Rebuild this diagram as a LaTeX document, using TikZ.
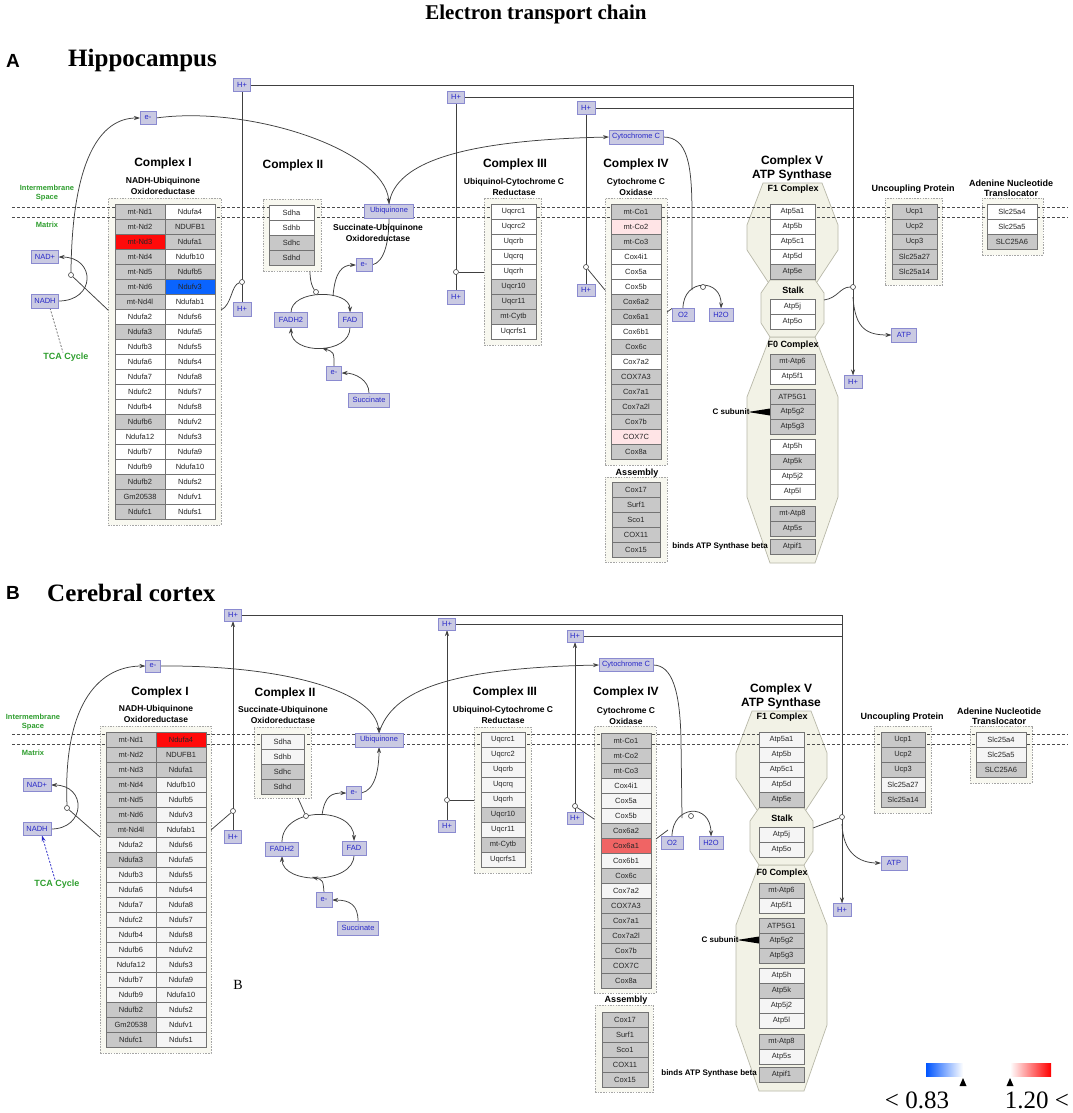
\documentclass[tikz,border=0pt]{standalone}
\usepackage{fontspec}
\setmainfont{Liberation Sans}
\newfontfamily\tnr{Liberation Serif}
\usetikzlibrary{arrows.meta}
\pgfdeclarelayer{back}
\pgfdeclarelayer{mid}
\pgfsetlayers{back,mid,main}
\definecolor{gry}{HTML}{C8C8C8}
\definecolor{wht}{HTML}{FFFFFF}
\definecolor{wht2}{HTML}{F5F5F5}
\definecolor{rd}{HTML}{FF0A0A}
\definecolor{bl}{HTML}{0A64FF}
\definecolor{pk}{HTML}{FFE4E6}
\definecolor{rm}{HTML}{F06464}
\definecolor{beige}{HTML}{F8F8F0}
\definecolor{octfill}{HTML}{F2F2E6}
\definecolor{octdraw}{HTML}{B8B8A8}
\definecolor{mfill}{HTML}{CACAE2}
\definecolor{mbord}{HTML}{8A8AD0}
\definecolor{mtext}{HTML}{2828C8}
\definecolor{grn}{HTML}{2E9E2E}
\definecolor{lblue}{HTML}{0055FF}
\definecolor{lred}{HTML}{FF0000}
\tikzset{
  gcell/.style={draw=black!55, line width=0.5pt, minimum height=15, inner sep=0, outer sep=0, text=black!85, font=\fontsize{7.5}{8}\selectfont},
  contst/.style={draw=black!35, dash pattern=on 1.5pt off 1.2pt, fill=beige, inner sep=0, outer sep=0, line width=0.7pt},
  mbox/.style={draw=mbord, fill=mfill, text=mtext, inner sep=0, outer sep=0, line width=0.6pt, font=\fontsize{7.5}{8}\selectfont},
  ctitle/.style={font=\fontsize{12}{13.3}\selectfont\bfseries, align=center, inner sep=0},
  csub/.style={font=\fontsize{8.5}{10.5}\selectfont\bfseries, align=center, inner sep=0},
  lab9/.style={font=\fontsize{9}{10}\selectfont\bfseries, align=center, inner sep=0},
  lab8/.style={font=\fontsize{8}{9}\selectfont\bfseries, inner sep=0},
  gtxt/.style={text=grn, font=\fontsize{7.5}{9}\selectfont\bfseries, align=center, inner sep=0},
  link/.style={draw=black!75, line width=0.75pt},
  arr/.style={-{Stealth[length=6pt,width=4pt]}},
  dot/.style={circle, draw=black!75, fill=white, inner sep=0, minimum size=5, line width=0.6pt},
  memb/.style={draw=black!70, dash pattern=on 3pt off 2pt, line width=0.6pt},
  oct/.style={fill=octfill, draw=octdraw, line width=0.7pt}
}
\newcommand\genecol[5]{%
  \foreach \gn/\gf [count=\gi] in {#5}{%
    \node[gcell, fill=\gf, minimum width=#4, anchor=north west] (#1-\gi) at (#2,{#3+15*(\gi-1)}) {\gn};}}
\newcommand\contbox[5]{\node[contst, minimum width=#4, minimum height=#5, anchor=north west] (#1) at (#2,#3) {};}
\newcommand\octsV{%
  \draw[oct] (763,183) -- (822,183) -- (838,225) -- (838,250) -- (815,285) -- (770,285) -- (747,250) -- (747,225) -- cycle;
  \draw[oct] (770,337) -- (815,337) -- (838,397) -- (838,497) -- (815,563) -- (770,563) -- (747,497) -- (747,397) -- cycle;
  \draw[oct] (770,280) -- (815,280) -- (824,293) -- (824,323) -- (815,337) -- (770,337) -- (761,323) -- (761,293) -- cycle;}
\begin{document}
\begin{tikzpicture}[x=1pt,y=-1pt]
\useasboundingbox (0,0) rectangle (1072,1113);

% ================= titles
\node[font=\tnr\bfseries\fontsize{21}{24}\selectfont] (title) at (536,14) {Electron transport chain};
\node[font=\bfseries\fontsize{19}{22}\selectfont] (lblA) at (13,61) {A};
\node[font=\tnr\bfseries\fontsize{25}{28}\selectfont, anchor=west, inner sep=0] (hip) at (68,60) {Hippocampus};
\node[font=\bfseries\fontsize{19}{22}\selectfont] (lblB) at (13,593) {B};
\node[font=\tnr\bfseries\fontsize{25}{28}\selectfont, anchor=west, inner sep=0] (cortex) at (47,593) {Cerebral cortex};

% ================= background layer: containers and octagons
\begin{pgfonlayer}{back}
  \fill[white] (0,0) rectangle (1072,1113);
  % panel A
  \contbox{kIA}{108}{198}{113}{327}
  \contbox{kIIA}{263}{199}{58}{72}
  \contbox{kIIIA}{484}{198}{57}{147}
  \contbox{kIVA}{605}{198}{62}{267}
  \contbox{asA}{605}{477}{62}{85}
  \contbox{ucA}{885}{198}{57}{87}
  \contbox{antA}{982}{198}{61}{57}
  \octsV
  % panel B
  \contbox{kIB}{100}{726}{111}{327}
  \contbox{kIIB}{254}{727}{57}{71}
  \contbox{kIIIB}{474}{727}{57}{146}
  \contbox{kIVB}{594}{726}{62}{267}
  \contbox{asB}{595}{1005}{58}{87}
  \contbox{ucB}{874}{726}{57}{87}
  \contbox{antB}{970}{726}{62}{57}
  \begin{scope}[shift={(-11,528)}]
    \octsV
  \end{scope}
\end{pgfonlayer}

% ================= membrane lines
\begin{pgfonlayer}{mid}
  \draw[memb] (12,207) -- (1068,207);
  \draw[memb] (12,217) -- (1068,217);
  \draw[memb] (12,734) -- (1068,734);
  \draw[memb] (12,744) -- (1068,744);
\end{pgfonlayer}

% ================= labels panel A
\node[gtxt] (imsA) at (47,193) {Intermembrane\\Space};
\node[gtxt] (matA) at (47,225) {Matrix};
\node[gtxt, font=\fontsize{9}{10}\selectfont\bfseries] (tcaA) at (66,357) {TCA Cycle};
\node[ctitle] (tCIA) at (163,163) {Complex I};
\node[csub] (sCIA) at (163,186) {NADH-Ubiquinone\\Oxidoreductase};
\node[ctitle] (tCIIA) at (293,165) {Complex II};
\node[csub] (sCIIA) at (378,233) {Succinate-Ubiquinone\\Oxidoreductase};
\node[ctitle] (tCIIIA) at (515,164) {Complex III};
\node[csub] (sCIIIA) at (514,187) {Ubiquinol-Cytochrome C\\Reductase};
\node[ctitle] (tCIVA) at (636,164) {Complex IV};
\node[csub] (sCIVA) at (636,187) {Cytochrome C\\Oxidase};
\node[lab9] (assA) at (637,473) {Assembly};
\node[ctitle] (tCVA) at (792,168.5) {Complex V\\ATP Synthase};
\node[lab9] (f1A) at (793,189) {F1 Complex};
\node[lab9] (stkA) at (793,290) {Stalk};
\node[lab9] (f0A) at (793,345) {F0 Complex};
\node[lab9] (upA) at (913,189) {Uncoupling Protein};
\node[lab9] (antlA) at (1011,188) {Adenine Nucleotide\\Translocator};
\node[lab8] (csA) at (731,412) {C subunit};
\node[lab8, anchor=east] (bdA) at (768,546) {binds ATP Synthase beta};
\fill[black] (748,412) -- (770,408.5) -- (770,415.5) -- cycle;

% ================= genes panel A
\genecol{IAl}{115}{204}{50}{mt-Nd1/gry,mt-Nd2/gry,mt-Nd3/rd,mt-Nd4/gry,mt-Nd5/gry,mt-Nd6/gry,mt-Nd4l/gry,Ndufa2/wht,Ndufa3/gry,Ndufb3/wht,Ndufa6/wht,Ndufa7/wht,Ndufc2/wht,Ndufb4/wht,Ndufb6/gry,Ndufa12/wht,Ndufb7/wht,Ndufb9/wht,Ndufb2/gry,Gm20538/gry,Ndufc1/gry}
\genecol{IAr}{165}{204}{50}{Ndufa4/wht,NDUFB1/gry,Ndufa1/gry,Ndufb10/wht,Ndufb5/gry,Ndufv3/bl,Ndufab1/wht,Ndufs6/wht,Ndufa5/wht,Ndufs5/wht,Ndufs4/wht,Ndufa8/wht,Ndufs7/wht,Ndufs8/wht,Ndufv2/wht,Ndufs3/wht,Ndufa9/wht,Ndufa10/wht,Ndufs2/wht,Ndufv1/wht,Ndufs1/wht}
\genecol{IIA}{269}{205}{45}{Sdha/wht,Sdhb/wht,Sdhc/gry,Sdhd/gry}
\genecol{IIIA}{491}{204}{45}{Uqcrc1/wht,Uqcrc2/wht,Uqcrb/wht,Uqcrq/wht,Uqcrh/wht,Uqcr10/gry,Uqcr11/gry,mt-Cytb/gry,Uqcrfs1/wht}
\genecol{IVA}{611}{204}{50}{mt-Co1/gry,mt-Co2/pk,mt-Co3/gry,Cox4i1/wht,Cox5a/wht,Cox5b/wht,Cox6a2/gry,Cox6a1/gry,Cox6b1/wht,Cox6c/gry,Cox7a2/wht,COX7A3/gry,Cox7a1/gry,Cox7a2l/gry,Cox7b/gry,COX7C/pk,Cox8a/gry}
\genecol{AsA}{612}{482}{48}{Cox17/gry,Surf1/gry,Sco1/gry,COX11/gry,Cox15/gry}
\genecol{VaA}{770}{204}{45}{Atp5a1/wht,Atp5b/wht,Atp5c1/wht,Atp5d/wht,Atp5e/gry}
\genecol{VbA}{770}{299}{45}{Atp5j/wht,Atp5o/wht}
\genecol{VcA}{770}{354}{45}{mt-Atp6/gry,Atp5f1/wht}
\genecol{VdA}{770}{389}{45}{ATP5G1/gry,Atp5g2/gry,Atp5g3/gry}
\genecol{VeA}{770}{439}{45}{Atp5h/wht,Atp5k/gry,Atp5j2/wht,Atp5l/wht}
\genecol{VfA}{770}{506}{45}{mt-Atp8/gry,Atp5s/gry}
\genecol{VgA}{770}{539}{45}{Atpif1/gry}
\genecol{UcA}{892}{204}{45}{Ucp1/gry,Ucp2/gry,Ucp3/gry,Slc25a27/gry,Slc25a14/gry}
\genecol{AnA}{987}{204}{50}{Slc25a4/wht,Slc25a5/wht,SLC25A6/gry}

% ================= metabolites panel A
\node[mbox, minimum width=16, minimum height=13] (eA) at (148,118) {e-};
\node[mbox, minimum width=27, minimum height=13] (nadA) at (45,257) {NAD+};
\node[mbox, minimum width=27, minimum height=14] (nadhA) at (45,301) {NADH};
\node[mbox, minimum width=17, minimum height=13] (hA1) at (242,85) {H+};
\node[mbox, minimum width=18, minimum height=14] (hA1b) at (242,309) {H+};
\node[mbox, minimum width=49, minimum height=14] (ubA) at (389,211) {Ubiquinone};
\node[mbox, minimum width=16, minimum height=13] (emA) at (364,265) {e-};
\node[mbox, minimum width=33, minimum height=15] (fadhA) at (291,320) {FADH2};
\node[mbox, minimum width=24, minimum height=15] (fadA) at (350,320) {FAD};
\node[mbox, minimum width=15, minimum height=14] (elA) at (334,373) {e-};
\node[mbox, minimum width=41, minimum height=14] (sucA) at (369,400) {Succinate};
\node[mbox, minimum width=17, minimum height=12] (hA2) at (456,97) {H+};
\node[mbox, minimum width=17, minimum height=14] (hA2b) at (456,297) {H+};
\node[mbox, minimum width=18, minimum height=13] (hA3) at (586,108) {H+};
\node[mbox, minimum width=18, minimum height=12] (hA3b) at (586,290) {H+};
\node[mbox, minimum width=54, minimum height=14] (cytA) at (636,137) {Cytochrome C};
\node[mbox, minimum width=22, minimum height=13] (o2A) at (683,315) {O2};
\node[mbox, minimum width=24, minimum height=13] (h2oA) at (721,315) {H2O};
\node[mbox, minimum width=25, minimum height=14] (atpA) at (904,335) {ATP};
\node[mbox, minimum width=18, minimum height=13] (hA4) at (853,382) {H+};

\node[dot] (dA1) at (71,275) {};
\node[dot] (dA2) at (242,282) {};
\node[dot] (dA3) at (316,292) {};
\node[dot] (dA4) at (456,272) {};
\node[dot] (dA5) at (586,267) {};
\node[dot] (dA6) at (703,287) {};
\node[dot] (dA7) at (853,287) {};

\coordinate (kIAw) at (108,310);
\coordinate (kIAe) at (221,310);
\coordinate (cA1) at (853,85);
\coordinate (cA2) at (853,97);
\coordinate (cA3) at (853,108);
\coordinate (kIIAs) at (310,271);
\coordinate (lpA) at (322,348);
\coordinate (ltA) at (333,296);
\coordinate (kIIIAw) at (484,272);
\coordinate (kIVAw) at (605,290);
\coordinate (kIVAe) at (667,312);
\coordinate (ojA) at (692,290);
\coordinate (stAe) at (824,300);
\coordinate (vA) at (853,297);

\begin{pgfonlayer}{mid}
  \draw[link] (kIAw) -- (dA1);
  \draw[link, arr] (dA1.north) .. controls (72,160) and (100,118) .. (eA.west);
  \draw[link, arr] (nadhA.east) .. controls (96,301) and (96,257) .. (nadA.east);
  \draw[black!60, line width=0.7pt, dash pattern=on 2pt off 1.5pt] ([xshift=5pt]nadhA.south) -- ([xshift=-3pt]tcaA.north);
  \draw[link] (kIAe) .. controls (232,305) and (231,285) .. (dA2);
  \draw[link] (hA1b.north) -- (hA1.south);
  \draw[link, arr] (hA1.east) -- (cA1) -- (hA4.north);
  \draw[link] (hA2.east) -- (cA2);
  \draw[link] (hA3.east) -- (cA3);
  \draw[link, arr] (eA.east) .. controls (250,105) and (385,150) .. (ubA.north);
  \draw[link, arr] (ubA.north) .. controls (395,160) and (470,140) .. (cytA.west);
  \draw[link] (kIIAs) .. controls (310,283) and (313,288) .. (dA3);
  \draw[link, arr] (fadhA.north) .. controls (291,289) and (350,289) .. (fadA.north);
  \draw[link, arr] (fadA.south) .. controls (350,355) and (291,355) .. (fadhA.south);
  \draw[link, arr] (elA.north) .. controls (334,352) .. (lpA);
  \draw[link, arr] (sucA.north) .. controls (369,380) and (355,373) .. (elA.east);
  \draw[link, arr] (ltA) .. controls (335,272) and (342,265) .. (emA.west);
  \draw[link] (emA.east) .. controls (385,262) and (389,240) .. (ubA.south);
  \draw[link] (kIIIAw) -- (dA4);
  \draw[link] (hA2b.north) -- (hA2.south);
  \draw[link] (hA3b.north) -- (hA3.south);
  \draw[link] (kIVAw) -- (dA5);
  \draw[link] (cytA.east) .. controls (688,137) and (692,165) .. (692,215) -- (ojA);
  \draw[link, arr] (o2A.north) .. controls (683,278) and (722,278) .. (h2oA.north);
  \draw[link] (kIVAe) -- (o2A.north west);
  \draw[link] (stAe) .. controls (838,298) and (840,287) .. (dA7);
  \draw[link, arr] (vA) .. controls (855,330) and (868,335) .. (atpA.west);
\end{pgfonlayer}

% ================= labels panel B
\node[gtxt] (imsB) at (33,722) {Intermembrane\\Space};
\node[gtxt] (matB) at (33,753) {Matrix};
\node[gtxt, font=\fontsize{9}{10}\selectfont\bfseries] (tcaB) at (57,884) {TCA Cycle};
\node[ctitle] (tCIB) at (160,692) {Complex I};
\node[csub] (sCIB) at (156,714) {NADH-Ubiquinone\\Oxidoreductase};
\node[ctitle] (tCIIB) at (285,693) {Complex II};
\node[csub] (sCIIB) at (283,715) {Succinate-Ubiquinone\\Oxidoreductase};
\node[ctitle] (tCIIIB) at (505,692) {Complex III};
\node[csub] (sCIIIB) at (503,715) {Ubiquinol-Cytochrome C\\Reductase};
\node[ctitle] (tCIVB) at (626,692) {Complex IV};
\node[csub] (sCIVB) at (626,716) {Cytochrome C\\Oxidase};
\node[lab9] (assB) at (626,1000) {Assembly};
\node[ctitle] (tCVB) at (781,696.5) {Complex V\\ATP Synthase};
\node[lab9] (f1B) at (782,717) {F1 Complex};
\node[lab9] (stkB) at (782,818) {Stalk};
\node[lab9] (f0B) at (782,873) {F0 Complex};
\node[lab9] (upB) at (902,717) {Uncoupling Protein};
\node[lab9] (antlB) at (999,716) {Adenine Nucleotide\\Translocator};
\node[lab8] (csB) at (720,940) {C subunit};
\node[lab8, anchor=east] (bdB) at (757,1073) {binds ATP Synthase beta};
\fill[black] (737,940) -- (759,936.5) -- (759,943.5) -- cycle;
\node[font=\tnr\fontsize{14}{16}\selectfont] (strayB) at (238,985) {B};

% ================= genes panel B
\genecol{IBl}{106}{732}{50}{mt-Nd1/gry,mt-Nd2/gry,mt-Nd3/gry,mt-Nd4/gry,mt-Nd5/gry,mt-Nd6/gry,mt-Nd4l/gry,Ndufa2/wht2,Ndufa3/gry,Ndufb3/wht2,Ndufa6/wht2,Ndufa7/wht2,Ndufc2/wht2,Ndufb4/wht2,Ndufb6/wht2,Ndufa12/wht2,Ndufb7/wht2,Ndufb9/wht2,Ndufb2/gry,Gm20538/gry,Ndufc1/gry}
\genecol{IBr}{156}{732}{50}{Ndufa4/rd,NDUFB1/gry,Ndufa1/gry,Ndufb10/wht2,Ndufb5/wht2,Ndufv3/wht2,Ndufab1/wht2,Ndufs6/wht2,Ndufa5/wht2,Ndufs5/wht2,Ndufs4/wht2,Ndufa8/wht2,Ndufs7/wht2,Ndufs8/wht2,Ndufv2/wht2,Ndufs3/wht2,Ndufa9/wht2,Ndufa10/wht2,Ndufs2/wht2,Ndufv1/wht2,Ndufs1/wht2}
\genecol{IIB}{261}{734}{43}{Sdha/wht2,Sdhb/wht2,Sdhc/gry,Sdhd/gry}
\genecol{IIIB}{481}{732}{44}{Uqcrc1/wht2,Uqcrc2/wht2,Uqcrb/wht2,Uqcrq/wht2,Uqcrh/wht2,Uqcr10/gry,Uqcr11/wht2,mt-Cytb/gry,Uqcrfs1/wht2}
\genecol{IVB}{601}{733}{50}{mt-Co1/gry,mt-Co2/gry,mt-Co3/gry,Cox4i1/wht2,Cox5a/wht2,Cox5b/wht2,Cox6a2/gry,Cox6a1/rm,Cox6b1/wht2,Cox6c/gry,Cox7a2/wht2,COX7A3/gry,Cox7a1/gry,Cox7a2l/gry,Cox7b/gry,COX7C/gry,Cox8a/gry}
\genecol{AsB}{602}{1012}{46}{Cox17/gry,Surf1/gry,Sco1/gry,COX11/gry,Cox15/gry}
\genecol{VaB}{759}{732}{45}{Atp5a1/wht2,Atp5b/wht2,Atp5c1/wht2,Atp5d/wht2,Atp5e/gry}
\genecol{VbB}{759}{827}{45}{Atp5j/wht2,Atp5o/wht2}
\genecol{VcB}{759}{883}{45}{mt-Atp6/gry,Atp5f1/wht2}
\genecol{VdB}{759}{918}{45}{ATP5G1/gry,Atp5g2/gry,Atp5g3/gry}
\genecol{VeB}{759}{968}{45}{Atp5h/wht2,Atp5k/gry,Atp5j2/wht2,Atp5l/wht2}
\genecol{VfB}{759}{1034}{45}{mt-Atp8/gry,Atp5s/wht2}
\genecol{VgB}{759}{1067}{45}{Atpif1/gry}
\genecol{UcB}{881}{732}{44}{Ucp1/gry,Ucp2/gry,Ucp3/gry,Slc25a27/wht2,Slc25a14/gry}
\genecol{AnB}{976}{732}{50}{Slc25a4/wht2,Slc25a5/wht2,SLC25A6/gry}

% ================= metabolites panel B
\node[mbox, minimum width=15, minimum height=12] (eB) at (153,666) {e-};
\node[mbox, minimum width=28, minimum height=13] (nadB) at (37,785) {NAD+};
\node[mbox, minimum width=28, minimum height=13] (nadhB) at (37,829) {NADH};
\node[mbox, minimum width=17, minimum height=12] (hB1) at (233,615) {H+};
\node[mbox, minimum width=17, minimum height=13] (hB1b) at (233,837) {H+};
\node[mbox, minimum width=48, minimum height=14] (ubB) at (379,740) {Ubiquinone};
\node[mbox, minimum width=15, minimum height=13] (emB) at (354,793) {e-};
\node[mbox, minimum width=33, minimum height=14] (fadhB) at (282,849) {FADH2};
\node[mbox, minimum width=24, minimum height=14] (fadB) at (354,848) {FAD};
\node[mbox, minimum width=16, minimum height=15] (elB) at (324,900) {e-};
\node[mbox, minimum width=41, minimum height=14] (sucB) at (358,928) {Succinate};
\node[mbox, minimum width=17, minimum height=12] (hB2) at (447,624) {H+};
\node[mbox, minimum width=17, minimum height=12] (hB2b) at (447,826) {H+};
\node[mbox, minimum width=16, minimum height=12] (hB3) at (575,636) {H+};
\node[mbox, minimum width=16, minimum height=12] (hB3b) at (575,818) {H+};
\node[mbox, minimum width=54, minimum height=13] (cytB) at (626,665) {Cytochrome C};
\node[mbox, minimum width=22, minimum height=13] (o2B) at (672,843) {O2};
\node[mbox, minimum width=24, minimum height=13] (h2oB) at (711,843) {H2O};
\node[mbox, minimum width=26, minimum height=14] (atpB) at (894,863) {ATP};
\node[mbox, minimum width=18, minimum height=13] (hB4) at (842,910) {H+};

\node[dot] (dB1) at (67,808) {};
\node[dot] (dB2) at (233,811) {};
\node[dot] (dB3) at (306,816) {};
\node[dot] (dB4) at (447,800) {};
\node[dot] (dB5) at (575,806) {};
\node[dot] (dB6) at (691,816) {};
\node[dot] (dB7) at (842,817) {};

\coordinate (kIBw) at (100,837);
\coordinate (kIBe) at (211,830);
\coordinate (cB1) at (842,615);
\coordinate (cB2) at (842,624);
\coordinate (cB3) at (842,636);
\coordinate (kIIBs) at (298,798);
\coordinate (lpB) at (312,877);
\coordinate (ltB) at (322,815);
\coordinate (kIIIBw) at (474,800);
\coordinate (kIVBw) at (594,819);
\coordinate (kIVBe) at (656,839);
\coordinate (ojB) at (682,818);
\coordinate (ojB2) at (668,830);
\coordinate (stBe) at (813,828);
\coordinate (vB) at (842,824);

\begin{pgfonlayer}{mid}
  \draw[link] (kIBw) -- (dB1);
  \draw[link, arr] (dB1.north) .. controls (63,710) and (95,666) .. (eB.west);
  \draw[link, arr] (nadhB.east) .. controls (86,829) and (87,785) .. (nadB.east);
  \draw[mtext, line width=0.75pt, dash pattern=on 2pt off 1.5pt, arr] ([xshift=-2pt]tcaB.north) -- ([xshift=5pt]nadhB.south);
  \draw[link] (kIBe) -- (dB2);
  \draw[link, arr] (hB1b.north) -- (hB1.south);
  \draw[link, arr] (hB1.east) -- (cB1) -- (hB4.north);
  \draw[link] (hB2.east) -- (cB2);
  \draw[link] (hB3.east) -- (cB3);
  \draw[link, arr] (eB.east) .. controls (280,665) and (375,690) .. (ubB.north);
  \draw[link, arr] (ubB.north) .. controls (392,690) and (450,668) .. (cytB.west);
  \draw[link] (kIIBs) -- (dB3);
  \draw[link, arr] (fadhB.north) .. controls (282,806) and (354,806) .. (fadB.north);
  \draw[link, arr] (fadB.south) .. controls (354,885) and (282,885) .. (fadhB.south);
  \draw[link, arr] (elB.north) .. controls (323,880) .. (lpB);
  \draw[link, arr] (sucB.north) .. controls (358,905) and (350,900) .. (elB.east);
  \draw[link, arr] (ltB) .. controls (325,795) and (332,793) .. (emB.west);
  \draw[link, arr] (emB.east) .. controls (375,790) and (379,770) .. (ubB.south);
  \draw[link] (kIIIBw) -- (dB4);
  \draw[link, arr] (hB2b.north) -- (hB2.south);
  \draw[link, arr] (hB3b.north) -- (hB3.south);
  \draw[link] (kIVBw) -- (dB5);
  \draw[link] (cytB.east) .. controls (672,665) and (680,690) .. (681,740) -- (ojB);
  \draw[link, arr] (o2B.north) .. controls (672,805) and (711,802) .. (h2oB.north);
  \draw[link] (kIVBe) -- (ojB2);
  \draw[link] (stBe) -- (dB7);
  \draw[link, arr] (vB) .. controls (843,852) and (858,863) .. (atpB.west);
\end{pgfonlayer}

% ================= legend
\shade[left color=lblue, right color=white] (926,1063) rectangle (963,1076);
\shade[left color=white, right color=lred] (1010,1063) rectangle (1051,1076);
\fill[black] (963,1078) -- (966.5,1086) -- (959.5,1086) -- cycle;
\fill[black] (1010,1078) -- (1013.5,1086) -- (1006.5,1086) -- cycle;
\node[font=\tnr\fontsize{25}{28}\selectfont, inner sep=0] (lg1) at (917,1100) {< 0.83};
\node[font=\tnr\fontsize{25}{28}\selectfont, inner sep=0] (lg2) at (1037,1100) {1.20 <};
\end{tikzpicture}
\end{document}
